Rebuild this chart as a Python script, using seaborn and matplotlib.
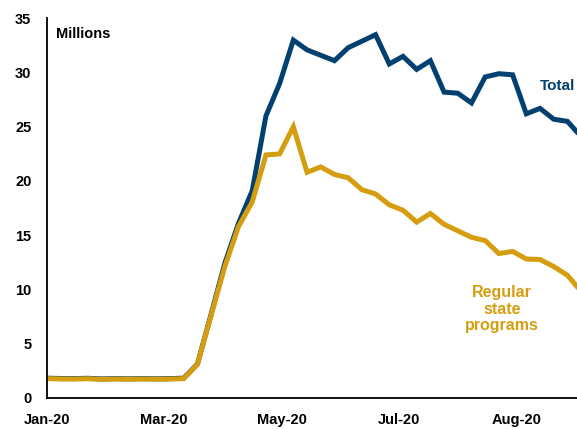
import matplotlib
matplotlib.use("Agg")
import matplotlib.pyplot as plt
import matplotlib.dates as mdates
import pandas as pd
import seaborn as sns

# Weekly continued claims, millions (weeks ending Saturdays from 4 Jan 2020)
week_start = "2020-01-04"
n_weeks = 40

total = [1.80, 1.77, 1.76, 1.79, 1.73, 1.76, 1.74, 1.76, 1.74, 1.76, 1.80,
         3.10, 7.70, 12.40, 16.10, 19.10, 26.00, 29.00, 33.00, 32.10,
         31.60, 31.10, 32.30, 32.90, 33.50, 30.80, 31.50, 30.30, 31.10,
         28.20, 28.10, 27.20, 29.60, 29.90, 29.80, 26.20, 26.70, 25.70,
         25.50, 24.10]

regular = [1.76, 1.73, 1.72, 1.75, 1.69, 1.72, 1.70, 1.72, 1.70, 1.72, 1.76,
           3.08, 7.60, 12.10, 15.80, 18.06, 22.40, 22.50, 25.00, 20.80,
           21.30, 20.60, 20.30, 19.20, 18.80, 17.80, 17.30, 16.20, 17.00,
           16.00, 15.40, 14.80, 14.50, 13.30, 13.50, 12.80, 12.75, 12.10,
           11.30, 9.80]

y_ticks = [0, 5, 10, 15, 20, 25, 30, 35]

dates = pd.date_range(week_start, periods=n_weeks, freq="7D")
df = pd.DataFrame({"date": dates, "Total": total, "Regular": regular})

navy = "#02406F"
gold = "#D49E10"

sns.set_theme(style="white")
plt.rcParams["font.family"] = ["Liberation Sans", "DejaVu Sans"]
plt.rcParams["font.weight"] = "bold"

fig = plt.figure(figsize=(5.77, 4.29), dpi=100)
ax = fig.add_axes([0.0809, 0.073, 0.950, 0.884])

sns.lineplot(data=df, x="date", y="Total", color=navy, lw=3.6, ax=ax,
             solid_joinstyle="miter")
sns.lineplot(data=df, x="date", y="Regular", color=gold, lw=3.6, ax=ax,
             solid_joinstyle="miter")

start = pd.Timestamp(week_start)
ax.set_xlim(start, start + pd.Timedelta(days=280))
ax.set_ylim(0, 35)

# Date ticks every 60 days from the first week
tick_dates = [start + pd.Timedelta(days=60 * k) for k in range(5)]
ax.set_xticks(tick_dates)
ax.xaxis.set_major_formatter(mdates.DateFormatter("%b-%y"))
ax.set_yticks(y_ticks)

ax.set_xlabel("")
ax.set_ylabel("")
for side in ("top", "right"):
    ax.spines[side].set_visible(False)
for side in ("left", "bottom"):
    ax.spines[side].set_color("black")
    ax.spines[side].set_linewidth(1.3)

ax.tick_params(axis="both", which="major", direction="out", length=5,
               width=1, color="#808080", labelsize=10.5, labelcolor="black")
ax.tick_params(axis="x", pad=6)
ax.tick_params(axis="y", pad=6)
for lab in ax.get_xticklabels() + ax.get_yticklabels():
    lab.set_fontweight("bold")

fig.text(56 / 577, 1 - 34 / 429, "Millions", fontsize=10.5,
         fontweight="bold", color="black", va="center", ha="left")
fig.text(540 / 577, 1 - 86 / 429, "Total", fontsize=11,
         fontweight="bold", color=navy, va="center", ha="left")
fig.text(502 / 577, 1 - 309 / 429, "Regular\nstate\nprograms",
         fontsize=11.5, fontweight="bold", color=gold, va="center",
         ha="center", linespacing=1.15)

fig.savefig("out.png", dpi=100)
